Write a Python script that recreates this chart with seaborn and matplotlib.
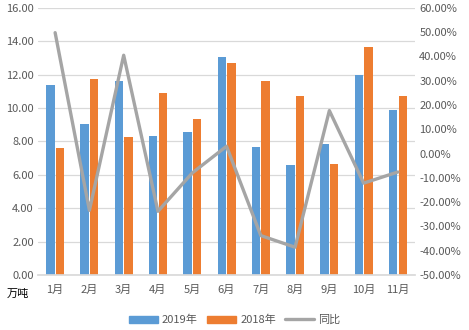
import numpy as np
import pandas as pd
import matplotlib
matplotlib.use("Agg")
import matplotlib.pyplot as plt
import seaborn as sns
from matplotlib.ticker import FuncFormatter, MultipleLocator

months = ["1月", "2月", "3月", "4月", "5月", "6月", "7月", "8月", "9月", "10月", "11月"]
y2019 = [11.40, 9.05, 11.62, 8.33, 8.57, 13.05, 7.68, 6.60, 7.85, 12.00, 9.90]
y2018 = [7.62, 11.75, 8.28, 10.90, 9.35, 12.72, 11.63, 10.72, 6.66, 13.66, 10.73]
yoy = [49.8, -23.4, 40.5, -23.8, -8.0, 3.0, -33.8, -38.6, 17.7, -12.2, -7.6]
series_names = ["2019年", "2018年"]
line_name = "同比"

sns.set_theme(style="white")
plt.rcParams['font.family'] = ['Noto Sans CJK SC', 'DejaVu Sans']

df = pd.DataFrame({
    "月份": months * 2,
    "值": y2019 + y2018,
    "年份": [series_names[0]] * len(months) + [series_names[1]] * len(months),
})

fig = plt.figure(figsize=(4.69, 3.30), dpi=100)
ax = fig.add_axes([0.081, 0.167, 0.804, 0.809])
blue, orange, gray = "#5B9BD5", "#ED7D31", "#A5A5A5"
txt = "#595959"
fs = 8

sns.barplot(data=df, x="月份", y="值", hue="年份", palette=[blue, orange],
            width=0.56, gap=0.12, ax=ax, legend=False, saturation=1, linewidth=0)
ax.set_ylim(0, 16)
ax.yaxis.set_major_locator(MultipleLocator(2))
ax.yaxis.set_major_formatter(FuncFormatter(lambda v, p: f"{v:.2f}"))
ax.grid(axis="y", color="#D9D9D9", linewidth=0.9)
ax.set_axisbelow(True)
ax.set_xlabel("")
ax.set_ylabel("")
for s in ["left", "right", "top"]:
    ax.spines[s].set_visible(False)
ax.spines["bottom"].set_color("#D9D9D9")
ax.tick_params(axis="both", length=0, colors=txt, labelsize=fs, pad=3)
ax.tick_params(axis="x", pad=7)

ax2 = ax.twinx()
ldf = pd.DataFrame({"x": np.arange(len(months)), "同比": yoy})
sns.lineplot(data=ldf, x="x", y="同比", color=gray, linewidth=2.4, ax=ax2)
ax2.set_ylim(-50, 60)
ax2.yaxis.set_major_locator(MultipleLocator(10))
ax2.yaxis.set_major_formatter(FuncFormatter(lambda v, p: f"{v:.2f}%"))
ax2.set_ylabel("")
ax2.set_xlabel("")
for s in ["left", "right", "top", "bottom"]:
    ax2.spines[s].set_visible(False)
ax2.tick_params(axis="y", length=0, colors=txt, labelsize=fs, pad=3)
ax.set_xlim(-0.5, len(months) - 0.5)

fig.text(0.015, 0.11, "万吨", fontsize=fs, color="#000000", ha="left", va="center")

from matplotlib.patches import Patch
from matplotlib.lines import Line2D
handles = [Patch(color=blue), Patch(color=orange), Line2D([0], [0], color=gray, linewidth=2.4)]
fig.legend(handles, series_names + [line_name], loc="center", bbox_to_anchor=(0.5, 0.03),
           ncol=3, frameon=False, fontsize=fs, labelcolor=txt, handlelength=2.6,
           handleheight=0.7, columnspacing=0.8, handletextpad=0.4)

fig.savefig("out.png", dpi=100)
